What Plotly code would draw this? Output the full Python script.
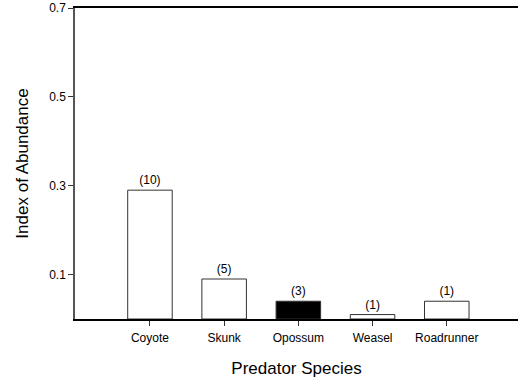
import plotly.graph_objects as go

species = ["Coyote", "Skunk", "Opossum", "Weasel", "Roadrunner"]
abundance = [0.29, 0.09, 0.04, 0.01, 0.04]
counts = ["(10)", "(5)", "(3)", "(1)", "(1)"]
fills = ["white", "white", "black", "white", "white"]
y_ticks = [0.1, 0.3, 0.5, 0.7]

fig = go.Figure(go.Bar(
    x=species, y=abundance, width=0.6,
    marker=dict(color=fills, line=dict(color="#333333", width=1)),
    text=counts, textposition="outside", cliponaxis=False,
    textfont=dict(family="Liberation Sans, Arial", size=12, color="black"),
))

fig.update_layout(
    width=521, height=379,
    margin=dict(l=75, r=3, t=8, b=60),
    plot_bgcolor="white", paper_bgcolor="white",
    font=dict(family="Liberation Sans, Arial", color="black"),
    showlegend=False,
    xaxis=dict(
        type="category", range=[-1.01, 4.96], automargin=False,
        showline=True, linecolor="black", linewidth=1.5, mirror=True,
        ticks="outside", ticklen=5, tickcolor="#333333",
        tickfont=dict(size=12), showgrid=False, ticklabelstandoff=2,
        title=dict(text="Predator Species", font=dict(size=17), standoff=18),
    ),
    yaxis=dict(
        range=[0, 0.7], tickvals=y_ticks, ticktext=["0.1", "0.3", "0.5", "0.7"],
        automargin=False,
        showline=True, linecolor="#555555", linewidth=1.5,
        ticks="outside", ticklen=5, tickcolor="#333333",
        tickfont=dict(size=12), showgrid=False, zeroline=False,
        title=dict(text="Index of Abundance", font=dict(size=17), standoff=16),
    ),
)

fig.write_html("out.html", config={"displayModeBar": False},
               post_script="document.body.style.margin='0px';")
